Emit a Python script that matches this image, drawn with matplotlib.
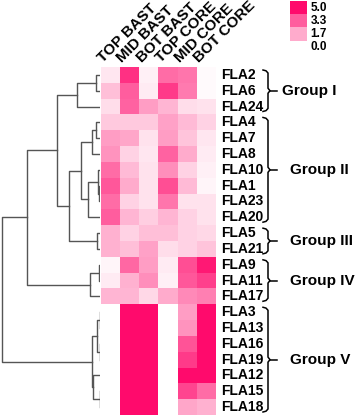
import matplotlib
matplotlib.use("Agg")
import matplotlib.pyplot as plt
import numpy as np
from matplotlib.colors import LinearSegmentedColormap

plt.rcParams['font.family'] = ['Liberation Sans', 'DejaVu Sans']

# columns and rows of the heatmap
columns = ["TOP BAST", "MID BAST", "BOT BAST", "TOP CORE", "MID CORE", "BOT CORE"]
genes = ["FLA2", "FLA6", "FLA24", "FLA4", "FLA7", "FLA8", "FLA10", "FLA1",
         "FLA23", "FLA20", "FLA5", "FLA21", "FLA9", "FLA11", "FLA17", "FLA3",
         "FLA13", "FLA16", "FLA19", "FLA12", "FLA15", "FLA18"]
values = np.array([
    [0.5, 4.2, 0.3, 3.0, 2.8, 0.1],
    [1.3, 3.3, 0.4, 4.0, 2.7, 0.1],
    [0.7, 3.2, 2.0, 1.5, 0.7, 0.6],
    [1.1, 1.1, 1.1, 1.9, 1.4, 0.9],
    [2.0, 1.8, 0.6, 2.0, 1.2, 0.5],
    [2.2, 0.9, 0.5, 3.2, 1.7, 0.4],
    [3.0, 1.4, 0.6, 2.3, 0.9, 0.3],
    [3.4, 1.7, 0.6, 3.6, 1.4, 0.2],
    [3.0, 0.9, 0.6, 2.8, 0.6, 0.6],
    [3.3, 1.5, 1.0, 1.5, 0.9, 0.6],
    [1.6, 0.9, 1.3, 1.3, 0.9, 0.8],
    [1.6, 1.3, 1.9, 0.7, 0.9, 1.2],
    [0.2, 3.1, 2.0, 0.4, 3.6, 4.7],
    [0.4, 1.6, 2.3, 0.3, 3.4, 3.9],
    [1.5, 1.5, 0.8, 1.7, 2.4, 2.6],
    [0.0, 5.0, 5.0, 0.0, 2.0, 5.0],
    [0.0, 5.0, 5.0, 0.0, 2.2, 5.0],
    [0.0, 5.0, 5.0, 0.0, 3.5, 5.0],
    [0.0, 5.0, 5.0, 0.0, 4.0, 5.0],
    [0.0, 5.0, 5.0, 0.0, 5.0, 5.0],
    [0.0, 5.0, 5.0, 0.0, 3.8, 3.0],
    [0.0, 5.0, 5.0, 0.0, 1.8, 1.6],
])
legend_values = [5.0, 3.3, 1.7, 0.0]

# groups: name, first row, last row
groups = [("Group I", 0, 2), ("Group II", 3, 9), ("Group III", 10, 11),
          ("Group IV", 12, 14), ("Group V", 15, 21)]

# dendrogram: (height, left, right)
A = (4, "FLA2", "FLA6")
B = (23, A, "FLA24")
C = (4, "FLA4", "FLA7")
D = (8, C, "FLA8")
E1 = (1, "FLA1", "FLA23")
E = (2.3, "FLA10", E1)
F = (12.3, E, "FLA20")
G = (19.3, D, F)
H = (3.3, "FLA5", "FLA21")
I = (30.7, G, H)
J = (42.7, B, I)
K1 = (1, "FLA9", "FLA11")
K = (10, K1, "FLA17")
L = (73.3, J, K)
N1 = (0.5, "FLA3", "FLA13")
N2 = (0.5, "FLA16", "FLA19")
N3 = (2.7, N1, N2)
N5 = (0.5, "FLA15", "FLA18")
N6 = (6.7, "FLA12", N5)
M = (8.3, N3, N6)
tree = (98.3, L, M)

W, Hh = 358, 417
fig = plt.figure(figsize=(W / 100, Hh / 100), dpi=100)

def box(x0, y0, x1, y1):
    return [x0 / W, 1 - y1 / Hh, (x1 - x0) / W, (y1 - y0) / Hh]

cmap = LinearSegmentedColormap.from_list("pk", ["#ffffff", "#ff0a6c"])

# heatmap
ax = fig.add_axes(box(101, 67, 216, 415))
ax.imshow(values, cmap=cmap, vmin=0, vmax=5, aspect='auto',
          extent=(0, len(columns), len(genes), 0), interpolation='nearest')
ax.set_xlim(0, len(columns))
ax.set_ylim(len(genes), 0)
ax.axis('off')
for i, g in enumerate(genes):
    ax.text(6.27, i + 0.5, g, fontsize=10, fontweight='bold', ha='left', va='center')
for j, c in enumerate(columns):
    ax.text(j + 0.12, -0.25, c, fontsize=11, fontweight='bold', rotation=45,
            rotation_mode='anchor', ha='left', va='baseline', clip_on=False)

# dendrogram
axd = fig.add_axes(box(0, 67, 100, 415))
axd.set_xlim(100, 0)
axd.set_ylim(len(genes), 0)
axd.axis('off')

def draw(node):
    if isinstance(node, str):
        return genes.index(node) + 0.5, 0
    h, l, r = node
    yl, hl = draw(l)
    yr, hr = draw(r)
    axd.plot([hl, h, h, hr], [yl, yl, yr, yr], color='#555555', lw=1)
    return (yl + yr) / 2, h

draw(tree)

# braces and group labels
axo = fig.add_axes([0, 0, 1, 1])
axo.set_xlim(0, W)
axo.set_ylim(Hh, 0)
axo.axis('off')
row_h = 348 / len(genes)
text_x = [282, 290, 290, 290, 290]
for (name, r0, r1), tx in zip(groups, text_x):
    top = 67 + r0 * row_h + 3
    bot = 67 + (r1 + 1) * row_h - 3
    mid = (top + bot) / 2
    xs = [263, 266, 268, 268, 270, 268, 268, 266, 263]
    ys = [top, top + 0.8, top + 3, mid - 2.5, mid, mid + 2.5, bot - 3, bot - 0.8, bot]
    axo.plot(xs, ys, color='black', lw=1.1)
    axo.plot([270, 277], [mid, mid], color='black', lw=1.1)
    axo.text(tx, mid, name, fontsize=11, fontweight='bold', ha='left', va='center')

# legend
axl = fig.add_axes(box(290, 1, 307, 54))
axl.imshow(np.array(legend_values).reshape(-1, 1), cmap=cmap, vmin=0, vmax=5,
           aspect='auto', extent=(0, 1, len(legend_values), 0))
axl.axis('off')
for k, v in enumerate(legend_values):
    axl.text(1.2, k + 0.5, "%.1f" % v, fontsize=8.5, fontweight='bold',
             ha='left', va='center')

fig.savefig("out.png", dpi=100)
